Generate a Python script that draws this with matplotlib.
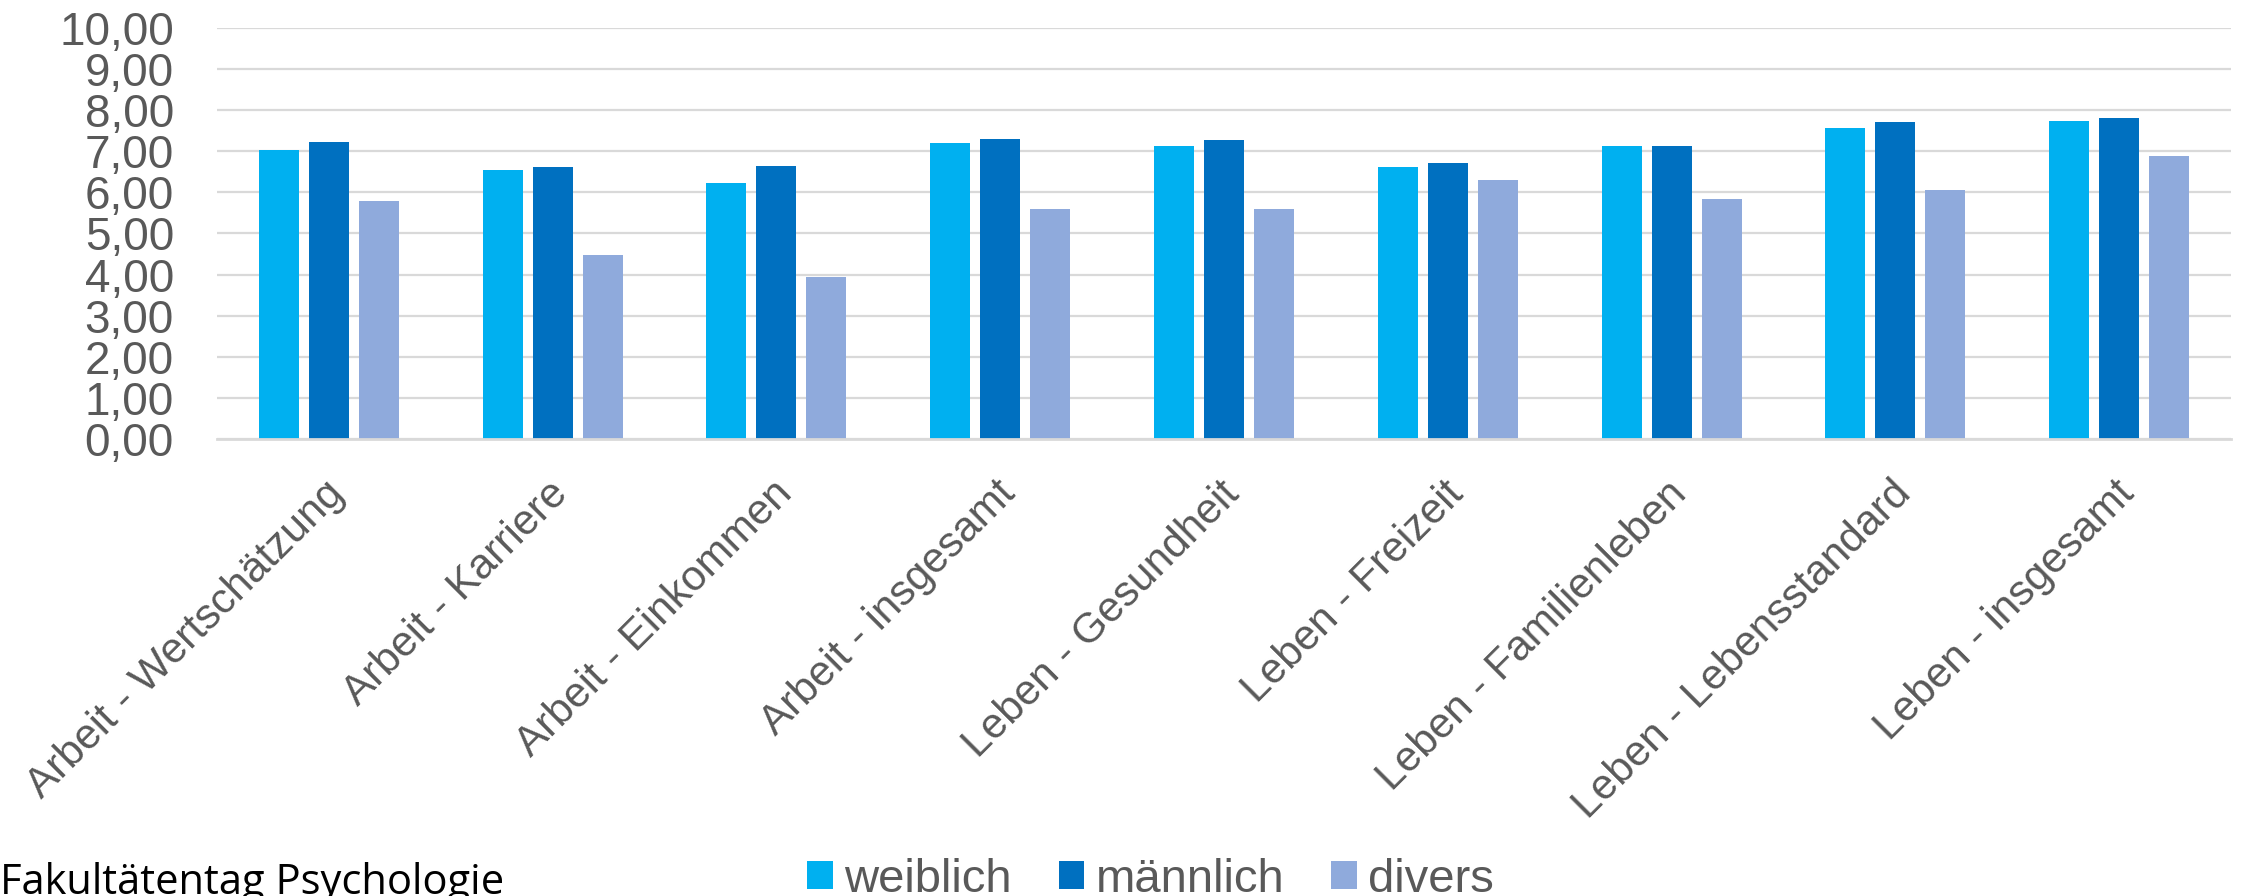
import matplotlib
matplotlib.use('Agg')
import matplotlib.pyplot as plt
import matplotlib.transforms as mtransforms
from matplotlib.patches import Patch
import numpy as np

categories = ['Arbeit - Wertschätzung', 'Arbeit - Karriere', 'Arbeit - Einkommen',
              'Arbeit - insgesamt', 'Leben - Gesundheit', 'Leben - Freizeit',
              'Leben - Familienleben', 'Leben - Lebensstandard', 'Leben - insgesamt']
weiblich = [7.04, 6.54, 6.24, 7.20, 7.13, 6.62, 7.13, 7.57, 7.74]
maennlich = [7.22, 6.62, 6.64, 7.30, 7.27, 6.72, 7.13, 7.72, 7.81]
divers = [5.80, 4.47, 3.94, 5.59, 5.59, 6.30, 5.83, 6.06, 6.88]
series_names = ['weiblich', 'männlich', 'divers']
y_ticks = [0, 1, 2, 3, 4, 5, 6, 7, 8, 9, 10]

colors = ['#00B0F0', '#0070C0', '#8FAADC']
text_grey = '#595959'
grid_grey = '#D9D9D9'

plt.rcParams['font.family'] = ['Liberation Sans', 'DejaVu Sans']

W, H = 2260, 896
fig = plt.figure(figsize=(W / 100, H / 100), dpi=100)
# plot area in pixels: x 217..2231, y 28..439 (from top)
ax = fig.add_axes([217 / W, 1 - 439 / H, (2231 - 217) / W, (439 - 28) / H])

x = np.arange(len(categories))
bar_w = 0.1786
step = 0.2234
for i, (vals, c) in enumerate(zip([weiblich, maennlich, divers], colors)):
    ax.bar(x + (i - 1) * step, vals, width=bar_w, color=c, linewidth=0, zorder=3)

ax.set_xlim(-0.5, len(categories) - 0.5)
ax.set_ylim(0, 10)
ax.set_yticks(y_ticks)
ax.set_yticklabels(['%d,00' % v for v in y_ticks])
ax.yaxis.grid(True, color=grid_grey, linewidth=1.6, zorder=0)
ax.set_axisbelow(True)
for s in ['top', 'right', 'left']:
    ax.spines[s].set_visible(False)
ax.spines['bottom'].set_color(grid_grey)
ax.spines['bottom'].set_linewidth(2.0)
ax.spines['bottom'].set_zorder(4)

ax.tick_params(axis='y', length=0, pad=31, labelsize=33, labelcolor=text_grey)
ax.tick_params(axis='x', length=0, pad=25, labelsize=30.5, labelcolor=text_grey)
ax.set_xticks(x)
ax.set_xticklabels(categories, rotation=45, ha='right', va='top', rotation_mode='anchor')
# nudge the rotated labels a little, like excel places them
shift = mtransforms.ScaledTranslation(-5 / 100, 0, fig.dpi_scale_trans)
for lbl in ax.get_xticklabels():
    lbl.set_transform(lbl.get_transform() + shift)

handles = [Patch(facecolor=c, edgecolor='none') for c in colors]
fig.legend(handles, series_names, loc='center left', bbox_to_anchor=(807 / W, 1 - 880 / H),
           ncol=3, frameon=False, fontsize=34, labelcolor=text_grey,
           handlelength=0.54, handleheight=0.54, handletextpad=0.24,
           columnspacing=1.0, borderpad=0, borderaxespad=0)

fig.text(0, 1 - 894 / H, 'Fakultätentag Psychologie', fontsize=30,
         family=['Open Sans', 'DejaVu Sans'], color='black', ha='left', va='baseline')

fig.savefig('out.png', dpi=100)
